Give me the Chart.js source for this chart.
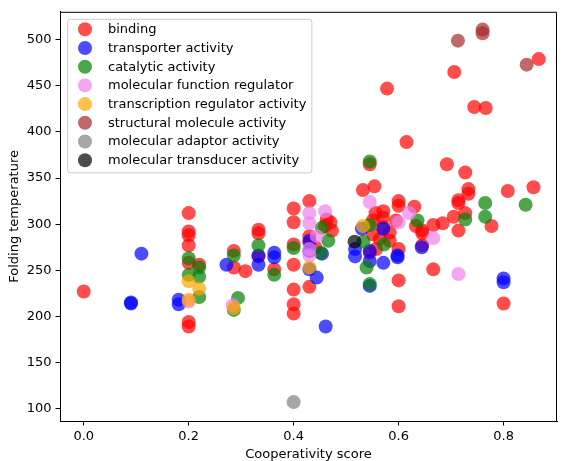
<!DOCTYPE html>
<html>
<head>
<meta charset="utf-8">
<script src="https://cdn.jsdelivr.net/npm/chart.js@4.4.1/dist/chart.umd.min.js"></script>
<style>
  html, body { margin: 0; padding: 0; background: #fff; }
  #wrap { width: 564px; height: 461px; }
</style>
</head>
<body>
<div id="wrap"><canvas id="scatterChart" width="564" height="461"></canvas></div>
<script>
// values: [cooperativity score, folding temperature]
var categories = [
  'binding', 'transporter activity', 'catalytic activity',
  'molecular function regulator', 'transcription regulator activity',
  'structural molecule activity', 'molecular adaptor activity',
  'molecular transducer activity'
];

var binding = [
  [0.0, 227], [0.2, 312], [0.2, 292], [0.2, 288], [0.2, 277], [0.2, 258],
  [0.2, 194], [0.2, 189], [0.22, 256], [0.286, 271], [0.286, 253], [0.308, 249],
  [0.333, 294], [0.333, 290], [0.333, 265], [0.363, 251], [0.4, 317], [0.4, 302],
  [0.4, 278], [0.4, 256], [0.4, 229], [0.4, 213], [0.4, 203], [0.43, 325],
  [0.43, 287], [0.43, 280], [0.43, 232], [0.441, 275], [0.463, 305], [0.47, 302],
  [0.473, 293], [0.46, 298], [0.532, 337], [0.545, 365], [0.554, 341], [0.578, 447],
  [0.556, 312], [0.571, 314], [0.551, 304], [0.57, 307], [0.551, 289], [0.583, 291],
  [0.564, 284], [0.583, 282], [0.557, 273], [0.545, 269], [0.571, 297], [0.595, 304],
  [0.6, 325], [0.6, 320], [0.6, 273], [0.6, 239], [0.6, 211], [0.615, 389],
  [0.63, 319], [0.633, 298], [0.645, 293], [0.645, 290], [0.645, 277], [0.666, 299],
  [0.666, 251], [0.684, 301], [0.692, 365], [0.705, 308], [0.706, 465], [0.714, 326],
  [0.714, 323], [0.714, 293], [0.727, 356], [0.727, 312], [0.733, 338], [0.733, 333],
  [0.744, 427], [0.766, 426], [0.777, 298], [0.8, 214], [0.808, 336], [0.857, 340],
  [0.867, 479]
];

var transporter = [
  [0.09, 215], [0.09, 214], [0.11, 268], [0.181, 218], [0.181, 213], [0.272, 256],
  [0.333, 266], [0.333, 256], [0.363, 269], [0.363, 264], [0.43, 282], [0.43, 271],
  [0.43, 251], [0.444, 242], [0.454, 268], [0.461, 189], [0.517, 273], [0.517, 265],
  [0.53, 295], [0.545, 271], [0.545, 260], [0.545, 233], [0.571, 295], [0.571, 258],
  [0.598, 266], [0.598, 264], [0.644, 275], [0.8, 241], [0.8, 237]
];

var catalytic = [
  [0.2, 263], [0.2, 245], [0.22, 253], [0.22, 243], [0.22, 221], [0.286, 266],
  [0.294, 220], [0.286, 207], [0.333, 277], [0.363, 245], [0.4, 274], [0.451, 269],
  [0.454, 296], [0.466, 282], [0.545, 368], [0.533, 281], [0.545, 299], [0.539, 253],
  [0.545, 235], [0.572, 278], [0.636, 304], [0.727, 305], [0.765, 323], [0.765, 308],
  [0.842, 321]
];

var funcRegulator = [
  [0.2, 216], [0.284, 212], [0.43, 312], [0.43, 301], [0.43, 273], [0.43, 266],
  [0.444, 287], [0.46, 314], [0.545, 324], [0.62, 312], [0.6, 302], [0.666, 285],
  [0.714, 246]
];

var transcription = [
  [0.2, 238], [0.2, 218], [0.22, 230], [0.286, 209], [0.43, 253], [0.532, 298]
];

var structural = [
  [0.76, 511], [0.76, 507], [0.713, 499], [0.844, 473]
];

var adaptor = [
  [0.4, 107]
];

var transducer = [
  [0.516, 281]
];

var xTicks = [0.0, 0.2, 0.4, 0.6, 0.8];
var yTicks = [100, 150, 200, 250, 300, 350, 400, 450, 500];

var seriesList = [binding, transporter, catalytic, funcRegulator, transcription,
  structural, adaptor, transducer];
var colors = [
  'rgba(255, 0, 0, 0.7)', 'rgba(0, 0, 255, 0.7)', 'rgba(0, 128, 0, 0.7)',
  'rgba(238, 130, 238, 0.7)', 'rgba(255, 165, 0, 0.7)', 'rgba(165, 42, 42, 0.7)',
  'rgba(128, 128, 128, 0.7)', 'rgba(0, 0, 0, 0.7)'
];

var FONT = '"DejaVu Sans", sans-serif';
var FONT_SIZE = 13;
Chart.defaults.font.family = FONT;
Chart.defaults.font.size = FONT_SIZE;
Chart.defaults.color = '#000';

var datasets = seriesList.map(function (pts, i) {
  return {
    label: categories[i],
    data: pts.map(function (p) { return { x: p[0], y: p[1] }; }),
    backgroundColor: colors[i],
    borderWidth: 0,
    pointRadius: 7,
    pointHoverRadius: 7,
    order: seriesList.length - i  // later categories on top, like the reference
  };
});

// legend box in the upper left of the plot, plus the top/right frame
var boxLegend = {
  id: 'boxLegend',
  afterDatasetsDraw: function (chart) {
    var ctx = chart.ctx;
    var area = chart.chartArea;
    var x0 = area.left + 7;
    var y0 = area.top + 7;
    var rowH = 18.7;
    ctx.save();
    ctx.font = FONT_SIZE + 'px ' + FONT;
    var maxW = 0;
    categories.forEach(function (c) { maxW = Math.max(maxW, ctx.measureText(c).width); });
    var w = 41 + maxW + 5;
    var h = rowH * categories.length + 4;
    ctx.beginPath();
    ctx.roundRect(x0 + 0.5, y0 + 0.5, w, h, 3);
    ctx.fillStyle = 'rgba(255, 255, 255, 0.8)';
    ctx.fill();
    ctx.strokeStyle = '#cccccc';
    ctx.lineWidth = 1;
    ctx.stroke();
    categories.forEach(function (c, i) {
      var cy = y0 + 10.5 + i * rowH;
      ctx.beginPath();
      ctx.arc(x0 + 18, cy, 7, 0, Math.PI * 2);
      ctx.fillStyle = colors[i];
      ctx.fill();
      ctx.fillStyle = '#000';
      ctx.textBaseline = 'middle';
      ctx.textAlign = 'left';
      ctx.fillText(c, x0 + 41, cy + 0.5);
    });
    ctx.restore();
  },
  afterDraw: function (chart) {
    var ctx = chart.ctx;
    var a = chart.chartArea;
    ctx.save();
    ctx.strokeStyle = '#000';
    ctx.lineWidth = 1;
    ctx.beginPath();
    ctx.moveTo(a.left, a.top + 0.5);
    ctx.lineTo(a.right - 0.5, a.top + 0.5);
    ctx.lineTo(a.right - 0.5, a.bottom);
    ctx.stroke();
    ctx.restore();
  }
};

new Chart(document.getElementById('scatterChart'), {
  type: 'scatter',
  data: { datasets: datasets },
  plugins: [boxLegend],
  options: {
    responsive: false,
    animation: false,
    layout: { padding: { top: 10, right: 1, left: 0, bottom: 0 } },
    plugins: {
      legend: { display: false },
      tooltip: { enabled: false }
    },
    scales: {
      x: {
        type: 'linear',
        min: -0.0452,
        max: 0.9018,
        afterFit: function (s) { s.height = 40; },
        afterBuildTicks: function (s) {
          s.ticks = xTicks.map(function (v) { return { value: v }; });
        },
        ticks: {
          padding: 3,
          callback: function (v) { return v.toFixed(1); }
        },
        grid: { drawOnChartArea: false, tickLength: 4.5, color: '#000', tickWidth: 1 },
        border: { display: true, color: '#000', width: 1 },
        title: {
          display: true,
          text: 'Cooperativity score',
          font: { size: FONT_SIZE, lineHeight: 1 },
          padding: { top: 0, bottom: 0 }
        }
      },
      y: {
        type: 'linear',
        min: 86.5,
        max: 530.3,
        afterFit: function (s) { s.width = 60; },
        afterBuildTicks: function (s) {
          s.ticks = yTicks.map(function (v) { return { value: v }; });
        },
        ticks: { padding: 4 },
        grid: { drawOnChartArea: false, tickLength: 4.5, color: '#000', tickWidth: 1 },
        border: { display: true, color: '#000', width: 1 },
        title: {
          display: true,
          text: 'Folding temperature',
          font: { size: FONT_SIZE, lineHeight: 1.2 },
          padding: { top: 7, bottom: 0 }
        }
      }
    }
  }
});
</script>
</body>
</html>
